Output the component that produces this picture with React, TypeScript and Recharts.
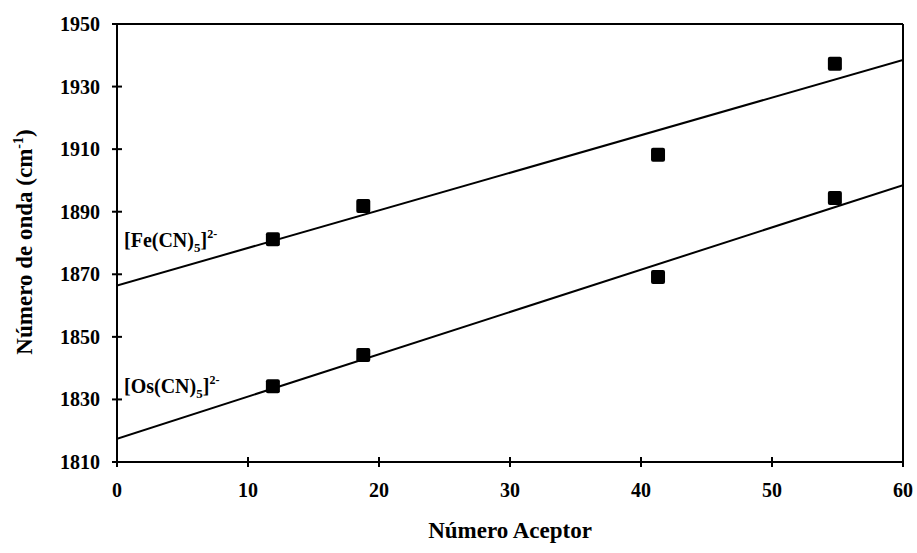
import React from "react";
import {
  ComposedChart,
  XAxis,
  YAxis,
  Line,
  Scatter,
  ReferenceLine,
} from "recharts";

const aceptor = [11.9, 18.8, 41.3, 54.8];
const feValues = [1881.2, 1891.8, 1908.2, 1937.3];
const osValues = [1834.2, 1844.2, 1869.1, 1894.4];
const feFit = [
  { x: 0, y: 1866.4 },
  { x: 60, y: 1938.5 },
];
const osFit = [
  { x: 0, y: 1817.4 },
  { x: 60, y: 1898.5 },
];
const xTicks = [0, 10, 20, 30, 40, 50, 60];
const yTicks = [1810, 1830, 1850, 1870, 1890, 1910, 1930, 1950];

const fePoints = aceptor.map((x, i) => ({ x, y: feValues[i] }));
const osPoints = aceptor.map((x, i) => ({ x, y: osValues[i] }));

const FONT =
  "'Liberation Serif', 'Times New Roman', Times, Tinos, 'Noto Serif', 'DejaVu Serif', FreeSerif, serif";
const txt: React.CSSProperties = { fontFamily: FONT, fontWeight: 700 };

const YTick = (props: any) => {
  const { x, y, payload } = props;
  return (
    <g>
      <line x1={x - 5} x2={x + 5} y1={y} y2={y} stroke="#000" strokeWidth={2} />
      <text x={x - 17} y={y} dy="0.35em" textAnchor="end" style={txt} fontSize={20} fill="#000">
        {payload.value}
      </text>
    </g>
  );
};

const XTick = (props: any) => {
  const { x, y, payload } = props;
  return (
    <g>
      <line x1={x} x2={x} y1={y - 5} y2={y + 5} stroke="#000" strokeWidth={2} />
      <text x={x} y={y + 35} textAnchor="middle" style={txt} fontSize={20} fill="#000">
        {payload.value}
      </text>
    </g>
  );
};

const Square = (props: any) => {
  const { cx, cy } = props;
  return <rect x={cx - 7} y={cy - 7} width={14} height={14} rx={2} fill="#000" />;
};

export default function App() {
  return (
    <div style={{ position: "absolute", left: 0, top: 0, width: 917, height: 553, background: "#fff" }}>
      <ComposedChart
        width={917}
        height={553}
        margin={{ top: 24, right: 14, bottom: 51, left: 57 }}
      >
        <XAxis
          dataKey="x"
          type="number"
          domain={[0, 60]}
          ticks={xTicks}
          allowDataOverflow
          height={40}
          tickSize={0}
          tickMargin={0}
          tickLine={false}
          axisLine={{ stroke: "#000", strokeWidth: 2 }}
          tick={<XTick />}
        />
        <YAxis
          dataKey="y"
          type="number"
          domain={[1810, 1950]}
          ticks={yTicks}
          allowDataOverflow
          width={60}
          tickSize={0}
          tickMargin={0}
          tickLine={false}
          axisLine={{ stroke: "#000", strokeWidth: 2 }}
          tick={<YTick />}
        />
        <ReferenceLine y={1950} stroke="#000" strokeWidth={2} />
        <ReferenceLine x={60} stroke="#000" strokeWidth={2} />
        <Line
          data={feFit}
          dataKey="y"
          type="linear"
          stroke="#000"
          strokeWidth={2}
          dot={false}
          activeDot={false}
          isAnimationActive={false}
        />
        <Line
          data={osFit}
          dataKey="y"
          type="linear"
          stroke="#000"
          strokeWidth={2}
          dot={false}
          activeDot={false}
          isAnimationActive={false}
        />
        <Scatter data={fePoints} dataKey="y" shape={<Square />} isAnimationActive={false} />
        <Scatter data={osPoints} dataKey="y" shape={<Square />} isAnimationActive={false} />
      </ComposedChart>
      <svg
        width={917}
        height={553}
        style={{ position: "absolute", left: 0, top: 0, pointerEvents: "none" }}
      >
        <text x={124} y={247} style={txt} fontSize={20} fill="#000">
          [Fe(CN)
          <tspan fontSize={13} dy={5}>5</tspan>
          <tspan dy={-5}>]</tspan>
          <tspan fontSize={12} dy={-9}>2-</tspan>
        </text>
        <text x={124} y={393} style={txt} fontSize={20} fill="#000">
          [Os(CN)
          <tspan fontSize={13} dy={5}>5</tspan>
          <tspan dy={-5}>]</tspan>
          <tspan fontSize={12} dy={-9}>2-</tspan>
        </text>
        <text x={510} y={538} textAnchor="middle" style={txt} fontSize={23} fill="#000">
          Número Aceptor
        </text>
        <text
          transform="translate(32, 242) rotate(-90)"
          textAnchor="middle"
          style={txt}
          fontSize={23}
          fill="#000"
        >
          Número de onda (cm
          <tspan fontSize={14} dy={-9}>-1</tspan>
          <tspan dy={9}>)</tspan>
        </text>
      </svg>
    </div>
  );
}
